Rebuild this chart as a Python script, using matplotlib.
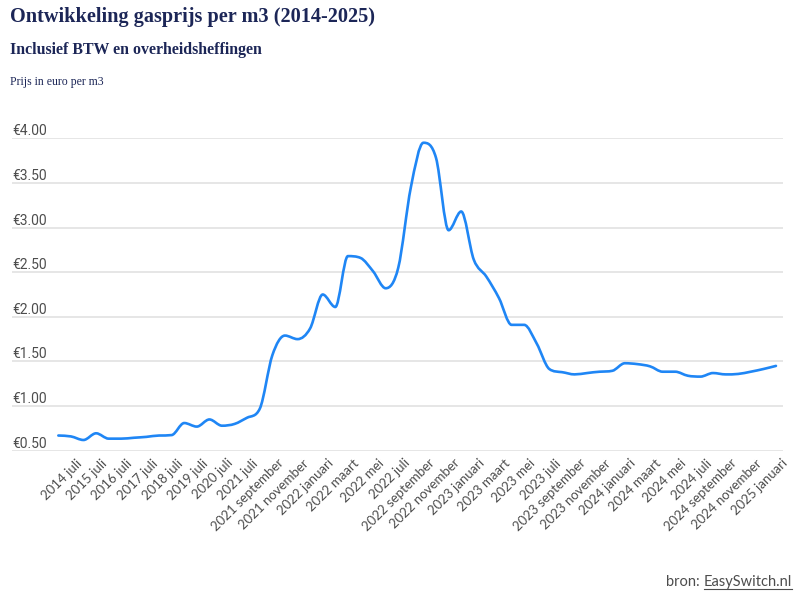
import matplotlib
matplotlib.use('Agg')
import matplotlib.pyplot as plt
from matplotlib.path import Path
from matplotlib.patches import PathPatch
from matplotlib.lines import Line2D
import matplotlib.transforms as mtransforms
import numpy as np

# ---------------- data ----------------
periods = [
    '2014 juli', '2015 januari', '2015 juli', '2016 januari', '2016 juli',
    '2017 januari', '2017 juli', '2018 januari', '2018 juli', '2019 januari',
    '2019 juli', '2020 januari', '2020 juli', '2021 januari', '2021 juli',
    '2021 augustus', '2021 september', '2021 oktober', '2021 november', '2021 december',
    '2022 januari', '2022 februari', '2022 maart', '2022 april', '2022 mei',
    '2022 juni', '2022 juli', '2022 augustus', '2022 september', '2022 oktober',
    '2022 november', '2022 december', '2023 januari', '2023 februari', '2023 maart',
    '2023 april', '2023 mei', '2023 juni', '2023 juli', '2023 augustus',
    '2023 september', '2023 oktober', '2023 november', '2023 december', '2024 januari',
    '2024 februari', '2024 maart', '2024 april', '2024 mei', '2024 juni',
    '2024 juli', '2024 augustus', '2024 september', '2024 oktober', '2024 november',
    '2024 december', '2025 januari', '2025 februari',
]
prices = [
    0.67, 0.66, 0.62, 0.695, 0.635,
    0.635, 0.645, 0.655, 0.67, 0.675,
    0.81, 0.77, 0.85, 0.78, 0.80,
    0.87, 0.97, 1.57, 1.79, 1.75,
    1.87, 2.25, 2.11, 2.68, 2.66,
    2.51, 2.32, 2.55, 3.45, 3.95,
    3.78, 2.97, 3.18, 2.64, 2.45,
    2.21, 1.91, 1.91, 1.70, 1.415,
    1.38, 1.355, 1.37, 1.385, 1.395,
    1.48, 1.47, 1.445, 1.385, 1.385,
    1.34, 1.33, 1.37, 1.355, 1.36,
    1.385, 1.415, 1.45,
]
y_ticks = [0.5, 1.0, 1.5, 2.0, 2.5, 3.0, 3.5, 4.0]
y_tick_labels = ['€0.50', '€1.00', '€1.50', '€2.00', '€2.50', '€3.00', '€3.50', '€4.00']

title = 'Ontwikkeling gasprijs per m3 (2014-2025)'
subtitle = 'Inclusief BTW en overheidsheffingen'
unit_label = 'Prijs in euro per m3'

# ---------------- style ----------------
NAVY = '#1c2657'
GREY = '#4d4d4d'
BLUE = '#1f86f5'
GRID = '#e4e4e4'
W, H = 800, 599

fig = plt.figure(figsize=(W / 100, H / 100), dpi=100)
ax_bottom_px, ax_top_px = 450.7, 138.3
ax = fig.add_axes([12 / W, (H - ax_bottom_px) / H, 771 / W, (ax_bottom_px - ax_top_px) / H])

n = len(prices)
xs = np.arange(n, dtype=float)
ys = np.array(prices, dtype=float)

# monotone cubic (Fritsch-Carlson) rendered as Bezier path
d = np.diff(ys)
m = np.zeros(n)
m[0] = d[0]
m[-1] = d[-1]
for k in range(1, n - 1):
    if d[k - 1] * d[k] <= 0:
        m[k] = 0.0
    else:
        m[k] = (d[k - 1] + d[k]) / 2.0
for k in range(n - 1):
    if d[k] == 0:
        m[k] = 0.0
        m[k + 1] = 0.0
        continue
    a = m[k] / d[k]
    b = m[k + 1] / d[k]
    s = a * a + b * b
    if s > 9:
        t = 3.0 / np.sqrt(s)
        m[k] = t * a * d[k]
        m[k + 1] = t * b * d[k]

verts = [(xs[0], ys[0])]
codes = [Path.MOVETO]
for k in range(n - 1):
    verts += [(xs[k] + 1 / 3, ys[k] + m[k] / 3),
              (xs[k + 1] - 1 / 3, ys[k + 1] - m[k + 1] / 3),
              (xs[k + 1], ys[k + 1])]
    codes += [Path.CURVE4] * 3
patch = PathPatch(Path(verts, codes), facecolor='none', edgecolor=BLUE, lw=1.9,
                  clip_on=False, capstyle='round', joinstyle='round', zorder=3)
ax.add_patch(patch)

ax.set_xlim(-3.68, 57.56)
ax.set_ylim(0.5, 4.0)

for v, lab in zip(y_ticks, y_tick_labels):
    ax.axhline(v, color=GRID, lw=1.3, zorder=0)
    ax.text(0, v, lab, transform=ax.get_yaxis_transform(), ha='left', va='bottom',
            fontsize=10, color=GREY, family='Roboto')

ax.set_yticks([])
ax.set_xticks(xs[::2])
ax.set_xticklabels(periods[::2], rotation=45, ha='right', va='top',
                   rotation_mode='anchor', fontsize=9.5, color=GREY, family='Lato')
ax.tick_params(axis='x', length=0, pad=4.5)
offset = mtransforms.ScaledTranslation(17.5 / 100, 0, fig.dpi_scale_trans)
for lbl in ax.get_xticklabels():
    lbl.set_transform(lbl.get_transform() + offset)
for sp in ax.spines.values():
    sp.set_visible(False)

# titles
fig.text(10 / W, 1 - 21.7 / H, title, fontsize=14.6, color=NAVY, weight='bold',
         family='Liberation Serif', va='baseline', ha='left')
fig.text(10 / W, 1 - 54 / H, subtitle, fontsize=11.4, color=NAVY, weight='bold',
         family='Liberation Serif', va='baseline', ha='left')
fig.text(10 / W, 1 - 85 / H, unit_label, fontsize=8.5, color=NAVY,
         family='Liberation Serif', va='baseline', ha='left')

# source
src_link = fig.text(792 / W, 1 - 586 / H, 'EasySwitch.nl', fontsize=10.5, color=GREY,
                    family='Lato', va='baseline', ha='right')
fig.canvas.draw()
r = fig.canvas.get_renderer()
bb = src_link.get_window_extent(r)
fig.text(bb.x0 / W, 1 - 586 / H, 'bron: ', fontsize=10.5, color=GREY,
         family='Lato', va='baseline', ha='right')
uy = (H - 588.5) / H
fig.add_artist(Line2D([bb.x0 / W, bb.x1 / W], [uy, uy], color=GREY, lw=0.8,
                      transform=fig.transFigure))

fig.savefig('out.png', dpi=100)
